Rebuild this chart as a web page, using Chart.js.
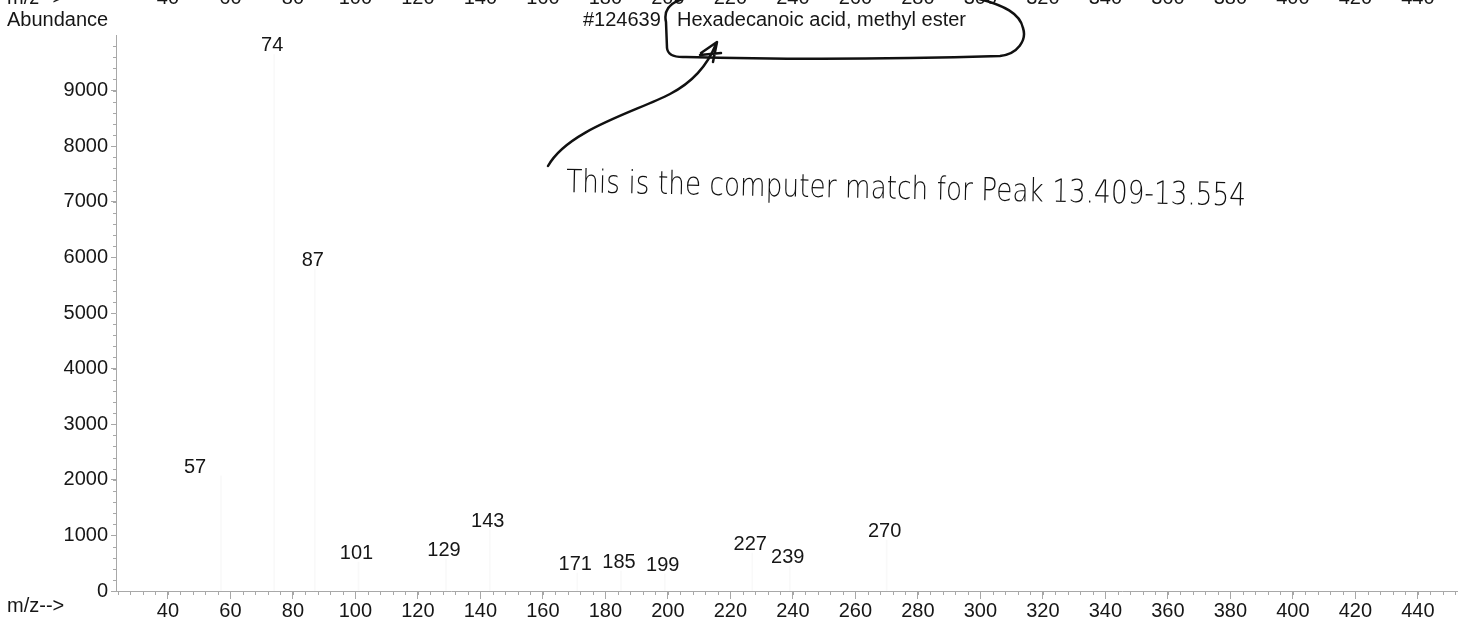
<!DOCTYPE html>
<html>
<head>
<meta charset="utf-8">
<script src="https://cdn.jsdelivr.net/npm/chart.js@4.4.1/dist/chart.umd.min.js"></script>
<style>
  html, body { margin: 0; padding: 0; background: #fff; }
  canvas { display: block; }
</style>
</head>
<body>
<canvas id="spectrum" width="1468" height="633"></canvas>
<script>
// peaks (m/z and abundance)
const mzValues = [57, 74, 87, 101, 129, 143, 171, 185, 199, 227, 239, 270];
const abundance = [2070, 9650, 5790, 520, 575, 1100, 325, 360, 305, 685, 450, 915];

const xTickLabels = [40, 60, 80, 100, 120, 140, 160, 180, 200, 220, 240, 260, 280, 300, 320, 340, 360, 380, 400, 420, 440];
const yTickLabels = [0, 1000, 2000, 3000, 4000, 5000, 6000, 7000, 8000, 9000];

const textFont = '20px "Liberation Sans", Arial, sans-serif';
const ink = '#161616';
const axisGrey = '#a8a8a8';
// the software pushed this label sideways
const labelShift = { 57: -24 };

// minor ticks, peak labels and top header text
const extras = {
  id: 'extras',
  afterDraw(chart) {
    const ctx = chart.ctx;
    const x = chart.scales.x;
    const y = chart.scales.y;
    ctx.save();

    // minor ticks
    ctx.strokeStyle = axisGrey;
    ctx.lineWidth = 1;
    ctx.beginPath();
    for (let v = 24; v <= 452; v += 4) {
      const px = Math.round(x.getPixelForValue(v)) + 0.5;
      ctx.moveTo(px, y.bottom);
      ctx.lineTo(px, y.bottom + 4);
    }
    for (let v = 200; v < 10000; v += 200) {
      const py = Math.round(y.getPixelForValue(v)) + 0.5;
      ctx.moveTo(x.left - 3, py);
      ctx.lineTo(x.left, py);
    }
    ctx.stroke();

    // peak labels
    ctx.font = textFont;
    ctx.fillStyle = ink;
    ctx.textAlign = 'center';
    ctx.textBaseline = 'alphabetic';
    const meta = chart.getDatasetMeta(0);
    meta.data.forEach((bar, i) => {
      const shift = labelShift[mzValues[i]] || 0;
      ctx.fillText(String(mzValues[i]), bar.x - 2 + shift, bar.y - 3);
    });

    // axis captions
    ctx.textAlign = 'left';
    ctx.textBaseline = 'middle';
    ctx.fillText('Abundance', 7, 20);
    ctx.fillText('m/z-->', 7, 606);

    // header row cut off by the page edge
    ctx.textBaseline = 'alphabetic';
    ctx.fillText('m/z-->', 7, 4);
    ctx.textAlign = 'center';
    xTickLabels.forEach(v => ctx.fillText(String(v), x.getPixelForValue(v), 4));

    // library hit
    ctx.textAlign = 'left';
    ctx.textBaseline = 'middle';
    ctx.fillText('#124639', 583, 20);
    ctx.fillText('Hexadecanoic acid, methyl ester', 677, 20);

    // pen marks
    ctx.strokeStyle = '#111';
    ctx.lineWidth = 2.5;
    ctx.lineCap = 'round';
    ctx.lineJoin = 'round';
    ctx.beginPath();
    ctx.moveTo(686, -2);
    ctx.quadraticCurveTo(662, 4, 666, 22);
    ctx.lineTo(667, 48);
    ctx.quadraticCurveTo(668, 58, 686, 57);
    ctx.bezierCurveTo(800, 60, 900, 59, 1000, 56);
    ctx.bezierCurveTo(1018, 54, 1027, 40, 1023, 28);
    ctx.bezierCurveTo(1020, 14, 1005, 5, 975, -2);
    ctx.stroke();

    ctx.beginPath();
    ctx.moveTo(548, 166);
    ctx.bezierCurveTo(568, 130, 635, 112, 670, 94);
    ctx.bezierCurveTo(695, 81, 708, 64, 716, 44);
    ctx.stroke();
    ctx.beginPath();
    ctx.moveTo(701, 53);
    ctx.lineTo(717, 42);
    ctx.lineTo(713, 62);
    ctx.moveTo(700, 55);
    ctx.lineTo(721, 53);
    ctx.stroke();

    ctx.translate(566, 192);
    ctx.rotate(0.02);
    ctx.font = '200 32px "DejaVu Sans", sans-serif';
    ctx.fillStyle = '#111';
    ctx.textAlign = 'left';
    ctx.textBaseline = 'alphabetic';
    ctx.fillText('This is the computer match for Peak 13.409-13.554', 0, 0, 680);
    ctx.restore();
  }
};

new Chart(document.getElementById('spectrum'), {
  type: 'bar',
  data: {
    datasets: [
      {
        data: mzValues.map((m, i) => ({ x: m, y: abundance[i] })),
        backgroundColor: '#f9f9f9',
        barThickness: 1,
      },
    ],
  },
  options: {
    responsive: false,
    animation: false,
    layout: { padding: { top: 35, right: 11, left: 0, bottom: 0 } },
    plugins: {
      legend: { display: false },
      tooltip: { enabled: false },
    },
    scales: {
      x: {
        type: 'linear',
        offset: false,
        min: 23.4,
        max: 452.5,
        afterFit: s => { s.height = 42; },
        afterBuildTicks: s => { s.ticks = xTickLabels.map(v => ({ value: v })); },
        grid: { offset: false, drawOnChartArea: false, drawTicks: true, tickLength: 8, color: axisGrey },
        border: { display: true, color: axisGrey },
        ticks: { color: ink, font: { family: '"Liberation Sans", Arial, sans-serif', size: 20 }, padding: 0, maxRotation: 0, autoSkip: false, callback: v => String(v) },
      },
      y: {
        min: 0,
        max: 10000,
        afterFit: s => { s.width = 116; },
        afterBuildTicks: s => { s.ticks = yTickLabels.map(v => ({ value: v })); },
        grid: { drawOnChartArea: false, drawTicks: true, tickLength: 5, color: axisGrey },
        border: { display: true, color: axisGrey },
        ticks: { color: ink, font: { family: '"Liberation Sans", Arial, sans-serif', size: 20 }, padding: 3, autoSkip: false, callback: v => String(v) },
      },
    },
  },
  plugins: [extras],
});
</script>
</body>
</html>
